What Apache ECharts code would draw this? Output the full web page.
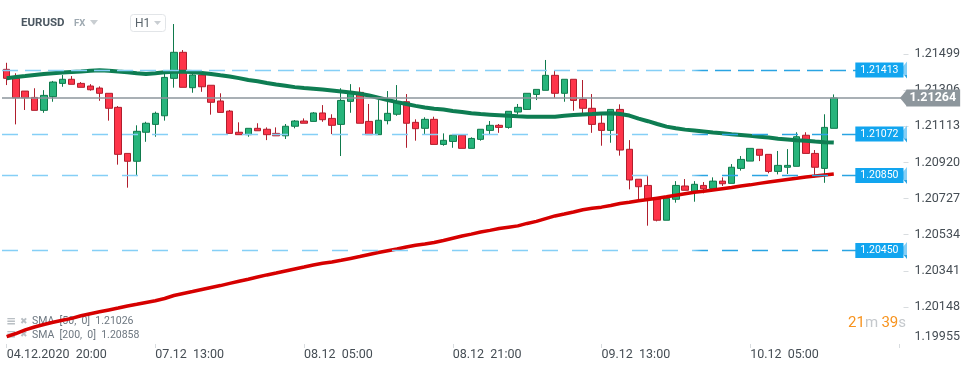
<!DOCTYPE html>
<html><head><meta charset="utf-8">
<script src="https://cdn.jsdelivr.net/npm/echarts@6/dist/echarts.min.js"></script>
<style>html,body{margin:0;padding:0;background:#fff;}#c{width:974px;height:368px;}</style>
</head><body><div id="c"></div>
<script>
const categories = [
'04.12 20:00','04.12 21:00','04.12 22:00',
'07.12 00:00','07.12 01:00','07.12 02:00','07.12 03:00','07.12 04:00','07.12 05:00','07.12 06:00','07.12 07:00',
'07.12 08:00','07.12 09:00','07.12 10:00','07.12 11:00','07.12 12:00','07.12 13:00','07.12 14:00','07.12 15:00',
'07.12 16:00','07.12 17:00','07.12 18:00','07.12 19:00','07.12 20:00','07.12 21:00','07.12 22:00','07.12 23:00',
'08.12 00:00','08.12 01:00','08.12 02:00','08.12 03:00','08.12 04:00','08.12 05:00','08.12 06:00','08.12 07:00',
'08.12 08:00','08.12 09:00','08.12 10:00','08.12 11:00','08.12 12:00','08.12 13:00','08.12 14:00','08.12 15:00',
'08.12 16:00','08.12 17:00','08.12 18:00','08.12 19:00','08.12 20:00','08.12 21:00','08.12 22:00','08.12 23:00',
'09.12 00:00','09.12 01:00','09.12 02:00','09.12 03:00','09.12 04:00','09.12 05:00','09.12 06:00','09.12 07:00',
'09.12 08:00','09.12 09:00','09.12 10:00','09.12 11:00','09.12 12:00','09.12 13:00','09.12 14:00','09.12 15:00',
'09.12 16:00','09.12 17:00','09.12 18:00','09.12 19:00','09.12 20:00','09.12 21:00','09.12 22:00','09.12 23:00',
'10.12 00:00','10.12 01:00','10.12 02:00','10.12 03:00','10.12 04:00','10.12 05:00','10.12 06:00','10.12 07:00',
'10.12 08:00','10.12 09:00','10.12 10:00','10.12 11:00','10.12 12:00','10.12 13:00','10.12 14:00'
];
const tickLabels = ['04.12.2020  20:00','07.12  13:00','08.12  05:00','08.12  21:00','09.12  13:00','10.12  05:00'];

const opens = [1.21417,1.21369,1.21301,1.21267,1.21198,1.21271,1.21342,1.21364,1.21342,1.21328,
1.21317,1.21289,1.21214,1.20968,1.20926,1.21081,1.21123,1.21169,1.21369,1.21508,
1.21319,1.21387,1.21332,1.21248,1.21194,1.21081,1.21068,1.21102,1.21097,1.21075,
1.21062,1.21113,1.21141,1.21139,1.21184,1.21155,1.21123,1.21246,1.21294,1.21139,
1.21068,1.21143,1.21177,1.21244,1.21134,1.21102,1.21150,1.21016,1.21032,1.21065,
1.20995,1.21043,1.21091,1.21118,1.21107,1.21189,1.21203,1.21283,1.21305,1.21385,
1.21289,1.21364,1.21257,1.21209,1.21129,1.21091,1.21203,1.20990,1.20830,1.20797,
1.20724,1.20611,1.20723,1.20794,1.20765,1.20797,1.20781,1.20820,1.20808,1.20888,
1.20927,1.20990,1.20963,1.20872,1.20894,1.20899,1.21065,1.20968,1.20888,1.21102];
const closes = [1.21369,1.21265,1.21265,1.21198,1.21278,1.21349,1.21364,1.21337,1.21321,1.21308,
1.21289,1.21209,1.20963,1.20926,1.21086,1.21129,1.21182,1.21374,1.21508,1.21321,
1.21387,1.21324,1.21241,1.21187,1.21075,1.21068,1.21102,1.21089,1.21068,1.21062,
1.21113,1.21141,1.21129,1.21184,1.21148,1.21118,1.21251,1.21294,1.21129,1.21068,
1.21145,1.21182,1.21244,1.21129,1.21100,1.21150,1.21016,1.21038,1.21065,1.20995,
1.21048,1.21097,1.21118,1.21107,1.21193,1.21214,1.21289,1.21310,1.21385,1.21289,
1.21364,1.21251,1.21209,1.21123,1.21091,1.21203,1.20986,1.20826,1.20790,1.20724,
1.20611,1.20728,1.20797,1.20771,1.20803,1.20779,1.20820,1.20806,1.20894,1.20936,
1.20995,1.20958,1.20872,1.20904,1.20904,1.21057,1.20968,1.20894,1.21107,1.21264];
const lows = [1.21333,1.21123,1.21200,1.21198,1.21185,1.21244,1.21324,1.21337,1.21321,1.21303,
1.21249,1.21143,1.20908,1.20785,1.20847,1.21030,1.21057,1.21143,1.21319,1.21321,
1.21292,1.21297,1.21175,1.21187,1.21075,1.21068,1.21057,1.21089,1.21039,1.21062,
1.21045,1.21102,1.21129,1.21139,1.21137,1.21071,1.20954,1.21185,1.21129,1.21068,
1.21068,1.21123,1.21169,1.20998,1.21036,1.21068,1.21016,1.21009,1.20998,1.20995,
1.20995,1.21036,1.21066,1.21078,1.21100,1.21177,1.21203,1.21253,1.21305,1.21265,
1.21244,1.21196,1.21182,1.21078,1.21009,1.21025,1.20956,1.20776,1.20719,1.20582,
1.20605,1.20611,1.20705,1.20771,1.20710,1.20755,1.20781,1.20794,1.20808,1.20876,
1.20927,1.20927,1.20862,1.20856,1.20858,1.20899,1.20968,1.20840,1.20811,1.21102];
const highs = [1.21452,1.21396,1.21301,1.21316,1.21306,1.21355,1.21387,1.21381,1.21349,1.21338,
1.21326,1.21289,1.21221,1.20968,1.21118,1.21137,1.21191,1.21404,1.21659,1.21520,
1.21413,1.21413,1.21332,1.21289,1.21200,1.21134,1.21102,1.21129,1.21107,1.21107,
1.21125,1.21146,1.21155,1.21189,1.21226,1.21177,1.21316,1.21338,1.21321,1.21232,
1.21253,1.21301,1.21333,1.21285,1.21150,1.21161,1.21164,1.21075,1.21065,1.21071,
1.21054,1.21097,1.21141,1.21125,1.21193,1.21232,1.21289,1.21310,1.21467,1.21410,
1.21364,1.21364,1.21360,1.21285,1.21173,1.21203,1.21230,1.21039,1.20830,1.20847,
1.20724,1.20728,1.20820,1.20831,1.20820,1.20815,1.20840,1.20840,1.20911,1.20954,
1.20995,1.20990,1.20963,1.20981,1.20991,1.21081,1.21081,1.20986,1.21177,1.21283];

const sma50 = [1.21369,1.21376,1.21381,1.21387,1.21392,1.21396,1.21400,1.21403,1.21406,1.21410,
1.21412,1.21410,1.21405,1.21401,1.21396,1.21392,1.21396,1.21401,1.21404,1.21404,
1.21403,1.21398,1.21392,1.21385,1.21379,1.21370,1.21360,1.21353,1.21344,1.21336,
1.21329,1.21322,1.21317,1.21313,1.21309,1.21304,1.21299,1.21293,1.21287,1.21277,
1.21265,1.21253,1.21242,1.21232,1.21222,1.21213,1.21207,1.21202,1.21194,1.21189,
1.21182,1.21178,1.21175,1.21172,1.21169,1.21166,1.21164,1.21164,1.21164,1.21164,
1.21169,1.21173,1.21176,1.21178,1.21181,1.21182,1.21178,1.21170,1.21154,1.21140,
1.21125,1.21111,1.21102,1.21095,1.21090,1.21085,1.21080,1.21076,1.21070,1.21066,
1.21062,1.21057,1.21053,1.21046,1.21042,1.21038,1.21035,1.21031,1.21028,1.21026];
const sma200 = [1.19989,1.20006,1.20025,1.20041,1.20054,1.20066,1.20077,1.20087,1.20101,1.20112,
1.20122,1.20132,1.20142,1.20153,1.20162,1.20172,1.20181,1.20193,1.20209,1.20220,
1.20230,1.20241,1.20252,1.20262,1.20274,1.20285,1.20296,1.20308,1.20319,1.20329,
1.20340,1.20351,1.20361,1.20372,1.20381,1.20388,1.20397,1.20407,1.20417,1.20428,
1.20439,1.20448,1.20457,1.20468,1.20477,1.20484,1.20492,1.20503,1.20515,1.20527,
1.20537,1.20548,1.20557,1.20567,1.20574,1.20581,1.20594,1.20605,1.20620,1.20634,
1.20644,1.20655,1.20667,1.20675,1.20681,1.20690,1.20700,1.20707,1.20715,1.20722,
1.20729,1.20736,1.20744,1.20752,1.20760,1.20766,1.20772,1.20779,1.20786,1.20794,
1.20800,1.20808,1.20815,1.20822,1.20829,1.20835,1.20842,1.20847,1.20853,1.20858];

const levels = [1.21413, 1.21072, 1.20850, 1.20450];
const lastPrice = 1.21264;
const yLabels = [1.19955,1.20148,1.20341,1.20534,1.20727,1.20920,1.21113,1.21306,1.21499];
const emptySlots = 7;

const FONT = 'Roboto, "Noto Sans", sans-serif';
const xCats = categories.concat(new Array(emptySlots).fill(''));
const candles = opens.map((o, i) => [o, closes[i], lows[i], highs[i]]);
const dashGrad = {type:'linear', x:0, y:0, x2:1, y2:0, colorStops:[
  {offset:0, color:'#85cff6'}, {offset:0.765, color:'#85cff6'},
  {offset:0.775, color:'#2aa4e2'}, {offset:1, color:'#2aa4e2'}]};

const levelLines = levels.map((v, i) => ({
  yAxis: v, symbol: 'none',
  lineStyle: {type: i === 0 ? [16, 7] : [16, 14], color: dashGrad, width: 1.3},
  label: {show: true, position: 'insideEnd', distance: 0, backgroundColor: '#12a5ef',
    color: '#fff', fontSize: 10.5, fontFamily: FONT, padding: [2, 5, 2, 5],
    formatter: () => v.toFixed(5)}
}));
const priceLine = {
  yAxis: lastPrice,
  lineStyle: {type: 'solid', color: '#8d969c', width: 1.5},
  label: {show: true, position: 'end', distance: 3, backgroundColor: '#8d969c',
    color: '#fff', fontSize: 12.5, fontWeight: 'bold', fontFamily: FONT, padding: [2, 4, 2, 3],
    formatter: () => lastPrice.toFixed(5)}
};

const chart = echarts.init(document.getElementById('c'), null, {renderer: 'canvas'});
chart.setOption({
  animation: false,
  backgroundColor: '#fff',
  grid: {left: 2, right: 70.5, top: 7, bottom: 24, containLabel: false},
  xAxis: {
    type: 'category', data: xCats, boundaryGap: true,
    axisLine: {show: false},
    axisTick: {show: true, alignWithLabel: true, interval: 15, length: 4, lineStyle: {color: '#d8dcdf'}},
    axisLabel: {interval: 15, align: 'left', margin: 4, color: '#454d54', fontSize: 12.5, fontFamily: FONT,
      formatter: (v, i) => (i % 16 === 0 && tickLabels[i / 16]) ? tickLabels[i / 16] : ''},
    splitLine: {show: false}
  },
  yAxis: {
    type: 'value', position: 'right', min: 1.1995, max: 1.2175, scale: true,
    splitLine: {show: false}, axisLine: {show: false},
    axisTick: {show: true, length: 5, customValues: yLabels.slice(1), lineStyle: {color: '#d8dcdf'}},
    axisLabel: {customValues: yLabels, margin: 11, color: '#454d54', fontSize: 12.5, fontFamily: FONT,
      formatter: v => { const s = v.toFixed(5); return v === yLabels[0] ? '{lo|' + s + '}' : s; },
      rich: {lo: {padding: [0, 0, 12, 0], color: '#454d54', fontSize: 12.5, fontFamily: FONT}}}
  },
  series: [
    {
      type: 'candlestick', data: candles, barWidth: 7, z: 2,
      itemStyle: {color: '#27b47b', color0: '#fe3449', borderColor: '#0f7a4c', borderColor0: '#b01e2d', borderWidth: 1},
      markLine: {
        silent: true, animation: false, precision: 5,
        symbol: ['none', 'path://M0,0 L10,0 L5,10 Z'], symbolSize: [17, 7],
        data: levelLines.concat([priceLine])
      }
    },
    {type: 'line', data: sma50, symbol: 'none', z: 3, lineStyle: {color: '#0e7d52', width: 4}, itemStyle: {color: '#0e7d52'}},
    {type: 'line', data: sma200, symbol: 'none', z: 3, lineStyle: {color: '#d60000', width: 3.5}, itemStyle: {color: '#d60000'}}
  ],
  graphic: [
    {type: 'text', x: 21, y: 23, style: {text: 'EURUSD', font: 'bold 11.5px ' + FONT, fill: '#4b5761', verticalAlign: 'middle'}},
    {type: 'text', x: 74, y: 24, style: {text: 'FX', font: 'bold 9.5px ' + FONT, fill: '#9ea9b1', verticalAlign: 'middle'}},
    {type: 'polygon', shape: {points: [[90, 20], [98, 20], [94, 25]]}, style: {fill: '#c9ced2'}},
    {type: 'rect', shape: {x: 130.5, y: 14.5, width: 35, height: 17, r: 3}, style: {fill: 'none', stroke: '#e2e5e8', lineWidth: 1}},
    {type: 'text', x: 135, y: 23.5, style: {text: 'H1', font: '12px ' + FONT, fill: '#5a646c', verticalAlign: 'middle'}},
    {type: 'polygon', shape: {points: [[154, 21], [161, 21], [157.5, 25]]}, style: {fill: '#c9ced2'}},
    {type: 'text', z: 1, x: 6, y: 321.5, style: {text: '≡', font: 'bold 12px "DejaVu Sans"', fill: '#b9bfc4', verticalAlign: 'middle'}},
    {type: 'text', z: 1, x: 20, y: 321.5, style: {text: '✖', font: '9px "DejaVu Sans"', fill: '#b9bfc4', verticalAlign: 'middle'}},
    {type: 'text', z: 1, x: 32, y: 321.5, style: {text: 'SMA  [50,  0]  ' + sma50[sma50.length - 1].toFixed(5), font: '10.5px ' + FONT, fill: '#6d7780', verticalAlign: 'middle'}},
    {type: 'text', z: 1, x: 6, y: 335, style: {text: '≡', font: 'bold 12px "DejaVu Sans"', fill: '#b9bfc4', verticalAlign: 'middle'}},
    {type: 'text', z: 1, x: 20, y: 335, style: {text: '✖', font: '9px "DejaVu Sans"', fill: '#b9bfc4', verticalAlign: 'middle'}},
    {type: 'text', z: 1, x: 32, y: 335, style: {text: 'SMA  [200,  0]  ' + sma200[sma200.length - 1].toFixed(5), font: '10.5px ' + FONT, fill: '#6d7780', verticalAlign: 'middle'}},
    {type: 'text', x: 906, y: 323, style: {text: '{o|21}{g|m} {o|39}{g|s}', align: 'right', verticalAlign: 'middle',
      rich: {o: {fill: '#f7931e', font: '15px ' + FONT}, g: {fill: '#c4c8cc', font: '15px ' + FONT}}}}
  ]
});
</script>
</body></html>
